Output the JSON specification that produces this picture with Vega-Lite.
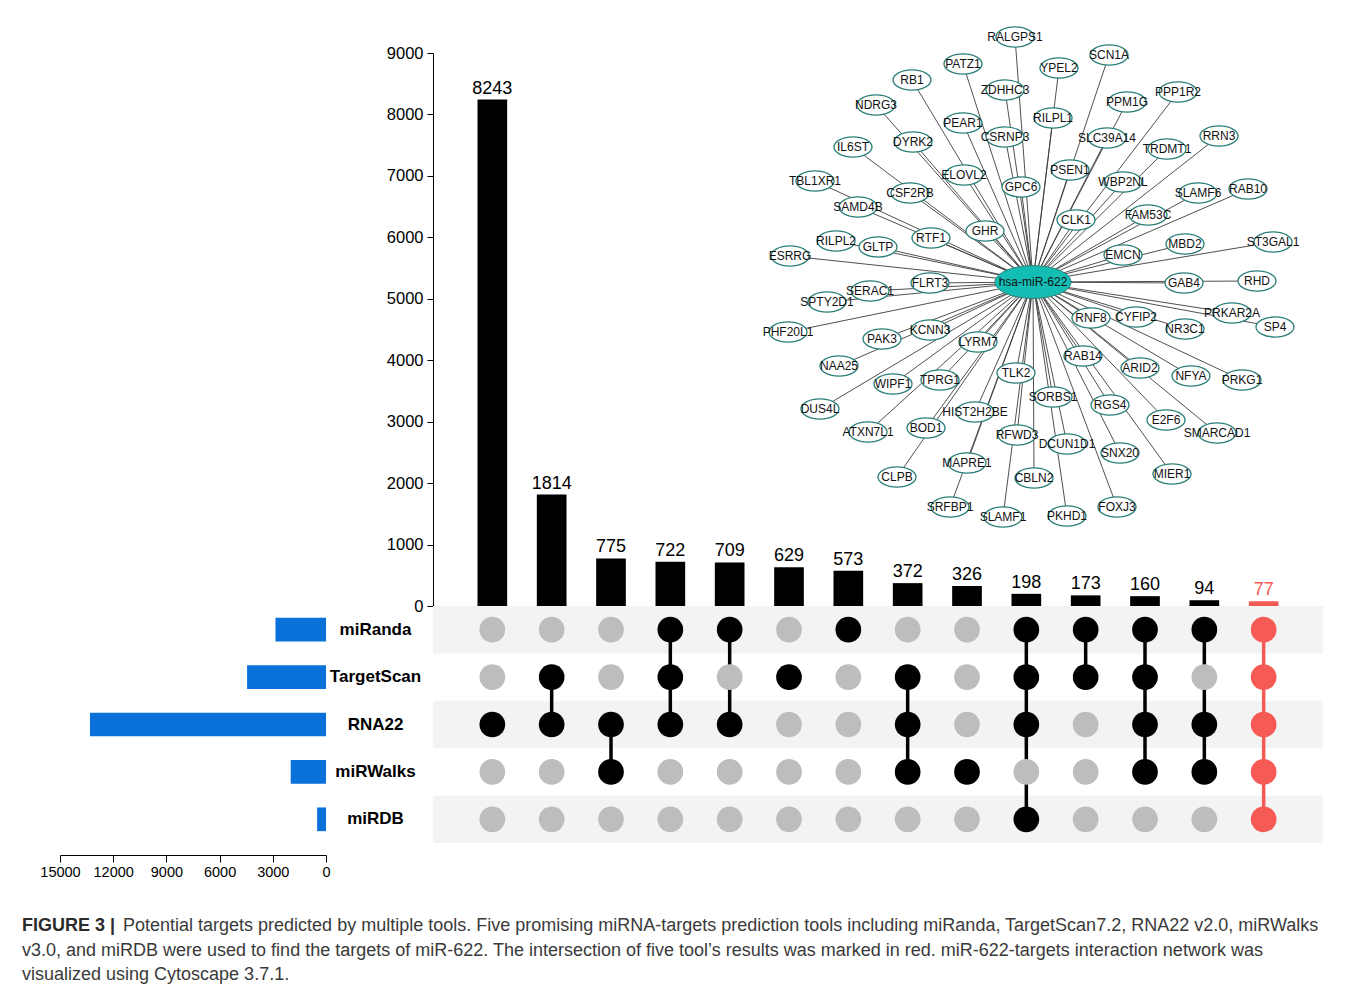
{
  "$schema": "https://vega.github.io/schema/vega-lite/v6.json",
  "padding": {"left": 22, "top": 24, "right": 5, "bottom": 3},
  "background": "white",
  "config": {
    "view": {"stroke": null},
    "font": "Liberation Sans",
    "axis": {"labelFont": "Liberation Sans", "labelColor": "#000000", "domainColor": "#000000", "tickColor": "#000000", "grid": false, "title": null}
  },
  "datasets": {
    "inter": [
      {"i": 1, "count": 8243, "degree": 1, "miRanda": 0, "TargetScan": 0, "RNA22": 1, "miRWalks": 0, "miRDB": 0},
      {"i": 2, "count": 1814, "degree": 2, "miRanda": 0, "TargetScan": 1, "RNA22": 1, "miRWalks": 0, "miRDB": 0},
      {"i": 3, "count": 775, "degree": 2, "miRanda": 0, "TargetScan": 0, "RNA22": 1, "miRWalks": 1, "miRDB": 0},
      {"i": 4, "count": 722, "degree": 3, "miRanda": 1, "TargetScan": 1, "RNA22": 1, "miRWalks": 0, "miRDB": 0},
      {"i": 5, "count": 709, "degree": 2, "miRanda": 1, "TargetScan": 0, "RNA22": 1, "miRWalks": 0, "miRDB": 0},
      {"i": 6, "count": 629, "degree": 1, "miRanda": 0, "TargetScan": 1, "RNA22": 0, "miRWalks": 0, "miRDB": 0},
      {"i": 7, "count": 573, "degree": 1, "miRanda": 1, "TargetScan": 0, "RNA22": 0, "miRWalks": 0, "miRDB": 0},
      {"i": 8, "count": 372, "degree": 3, "miRanda": 0, "TargetScan": 1, "RNA22": 1, "miRWalks": 1, "miRDB": 0},
      {"i": 9, "count": 326, "degree": 1, "miRanda": 0, "TargetScan": 0, "RNA22": 0, "miRWalks": 1, "miRDB": 0},
      {"i": 10, "count": 198, "degree": 4, "miRanda": 1, "TargetScan": 1, "RNA22": 1, "miRWalks": 0, "miRDB": 1},
      {"i": 11, "count": 173, "degree": 2, "miRanda": 1, "TargetScan": 1, "RNA22": 0, "miRWalks": 0, "miRDB": 0},
      {"i": 12, "count": 160, "degree": 4, "miRanda": 1, "TargetScan": 1, "RNA22": 1, "miRWalks": 1, "miRDB": 0},
      {"i": 13, "count": 94, "degree": 3, "miRanda": 1, "TargetScan": 0, "RNA22": 1, "miRWalks": 1, "miRDB": 0},
      {"i": 14, "count": 77, "degree": 5, "miRanda": 1, "TargetScan": 1, "RNA22": 1, "miRWalks": 1, "miRDB": 1}
    ],
    "sets": [
      {"set": "miRanda", "size": 2850},
      {"set": "TargetScan", "size": 4450},
      {"set": "RNA22", "size": 13310},
      {"set": "miRWalks", "size": 1990},
      {"set": "miRDB", "size": 500}
    ],
    "nodes": [
      {"name": "RALGPS1", "x": -18, "y": 245},
      {"name": "SCN1A", "x": 76, "y": 227},
      {"name": "PATZ1", "x": -70, "y": 218},
      {"name": "YPEL2", "x": 26, "y": 214},
      {"name": "RB1", "x": -121, "y": 202},
      {"name": "ZDHHC3", "x": -28, "y": 192},
      {"name": "PPP1R2", "x": 145, "y": 190},
      {"name": "PPM1G", "x": 94, "y": 180},
      {"name": "NDRG3", "x": -157, "y": 177},
      {"name": "RILPL1", "x": 20, "y": 164},
      {"name": "PEAR1", "x": -70, "y": 159},
      {"name": "SLC39A14", "x": 74, "y": 144},
      {"name": "RRN3", "x": 186, "y": 146},
      {"name": "CSRNP3", "x": -28, "y": 145},
      {"name": "IL6ST", "x": -180, "y": 135},
      {"name": "DYRK2", "x": -120, "y": 140},
      {"name": "TRDMT1", "x": 134, "y": 133},
      {"name": "PSEN1", "x": 37, "y": 112},
      {"name": "ELOVL2", "x": -69, "y": 107},
      {"name": "TBL1XR1", "x": -218, "y": 101},
      {"name": "WBP2NL", "x": 90, "y": 100},
      {"name": "GPC6", "x": -12, "y": 95},
      {"name": "CSF2RB", "x": -123, "y": 89},
      {"name": "SLAMF6", "x": 165, "y": 89},
      {"name": "RAB10", "x": 215, "y": 93},
      {"name": "SAMD4B", "x": -175, "y": 75},
      {"name": "FAM53C", "x": 115, "y": 67},
      {"name": "CLK1", "x": 43, "y": 62},
      {"name": "GHR", "x": -48, "y": 51},
      {"name": "RTF1", "x": -102, "y": 44},
      {"name": "RILPL2", "x": -197, "y": 41},
      {"name": "GLTP", "x": -155, "y": 35},
      {"name": "MBD2", "x": 152, "y": 38},
      {"name": "ST3GAL1", "x": 240, "y": 40},
      {"name": "EMCN", "x": 90, "y": 27},
      {"name": "ESRRG", "x": -243, "y": 26},
      {"name": "GAB4", "x": 151, "y": -1},
      {"name": "RHD", "x": 224, "y": 1},
      {"name": "FLRT3", "x": -103, "y": -1},
      {"name": "SERAC1", "x": -163, "y": -9},
      {"name": "SPTY2D1", "x": -206, "y": -20},
      {"name": "PRKAR2A", "x": 199, "y": -31},
      {"name": "RNF8", "x": 58, "y": -36},
      {"name": "CYFIP2", "x": 103, "y": -35},
      {"name": "SP4", "x": 242, "y": -45},
      {"name": "NR3C1", "x": 152, "y": -47},
      {"name": "PHF20L1", "x": -245, "y": -50},
      {"name": "KCNN3", "x": -103, "y": -48},
      {"name": "PAK3", "x": -151, "y": -57},
      {"name": "LYRM7", "x": -55, "y": -60},
      {"name": "RAB14", "x": 50, "y": -74},
      {"name": "NAA25", "x": -194, "y": -84},
      {"name": "ARID2", "x": 107, "y": -86},
      {"name": "TLK2", "x": -17, "y": -91},
      {"name": "NFYA", "x": 158, "y": -94},
      {"name": "PRKG1", "x": 209, "y": -98},
      {"name": "WIPF1", "x": -140, "y": -102},
      {"name": "TPRG1", "x": -93, "y": -98},
      {"name": "SORBS1", "x": 20, "y": -115},
      {"name": "RGS4", "x": 77, "y": -123},
      {"name": "DUS4L", "x": -213, "y": -127},
      {"name": "HIST2H2BE", "x": -58, "y": -130},
      {"name": "E2F6", "x": 133, "y": -138},
      {"name": "SMARCAD1", "x": 184, "y": -151},
      {"name": "ATXN7L1", "x": -165, "y": -150},
      {"name": "BOD1", "x": -107, "y": -146},
      {"name": "RFWD3", "x": -16, "y": -153},
      {"name": "DCUN1D1", "x": 34, "y": -162},
      {"name": "SNX20", "x": 87, "y": -171},
      {"name": "MAPRE1", "x": -66, "y": -181},
      {"name": "MIER1", "x": 139, "y": -192},
      {"name": "CLPB", "x": -136, "y": -195},
      {"name": "CBLN2", "x": 1, "y": -196},
      {"name": "SRFBP1", "x": -83, "y": -225},
      {"name": "SLAMF1", "x": -30, "y": -235},
      {"name": "PKHD1", "x": 34, "y": -234},
      {"name": "FOXJ3", "x": 84, "y": -225}
    ]
  },
  "concat": [
    {"width": 266, "height": 553, "data": {"values": []}, "mark": "point", "encoding": {}},
    {
      "width": 890,
      "height": 553,
      "resolve": {"scale": {"x": "independent", "y": "independent"}},
      "layer": [
        {
          "data": {"name": "inter"},
          "encoding": {
            "x": {"field": "i", "type": "ordinal", "axis": null, "scale": {"type": "band", "paddingInner": 0.5, "paddingOuter": 0.75}}
          },
          "layer": [
            {
              "mark": {"type": "bar"},
              "encoding": {
                "y": {"field": "count", "type": "quantitative", "scale": {"domain": [0, 9000], "nice": false},
                  "axis": {"values": [0, 1000, 2000, 3000, 4000, 5000, 6000, 7000, 8000, 9000], "format": "d", "tickSize": 6, "labelPadding": 4, "labelFontSize": 16.5, "domainWidth": 1, "tickWidth": 1}},
                "color": {"condition": {"test": "datum.degree == 5", "value": "#f65a54"}, "value": "#000000"}
              }
            },
            {
              "mark": {"type": "text", "baseline": "alphabetic", "dy": -6, "fontSize": 18, "font": "Liberation Sans"},
              "encoding": {
                "y": {"field": "count", "type": "quantitative"},
                "text": {"field": "count", "type": "quantitative", "format": "d"},
                "color": {"condition": {"test": "datum.degree == 5", "value": "#f65a54"}, "value": "#000000"}
              }
            }
          ]
        },
        {
          "data": {"name": "nodes"},
          "layer": [
            {
              "mark": {"type": "rule", "color": "#3c3c3c", "strokeWidth": 0.9},
              "encoding": {
                "x": {"field": "x", "type": "quantitative", "axis": null, "scale": {"domain": [-600, 290], "nice": false, "zero": false}},
                "y": {"field": "y", "type": "quantitative", "axis": null, "scale": {"domain": [-324, 229], "nice": false, "zero": false}},
                "x2": {"datum": 0},
                "y2": {"datum": 0}
              }
            },
            {
              "mark": {"type": "point", "shape": "M-1,0A1,0.53,0,1,0,1,0A1,0.53,0,1,0,-1,0Z", "size": 1444, "filled": true, "fill": "#ffffff", "stroke": "#2a7f77", "strokeWidth": 1.3, "opacity": 1},
              "encoding": {
                "x": {"field": "x", "type": "quantitative", "axis": null},
                "y": {"field": "y", "type": "quantitative", "axis": null}
              }
            },
            {
              "mark": {"type": "text", "fontSize": 12, "color": "#111111", "font": "Liberation Sans"},
              "encoding": {
                "x": {"field": "x", "type": "quantitative", "axis": null},
                "y": {"field": "y", "type": "quantitative", "axis": null},
                "text": {"field": "name"}
              }
            },
            {
              "data": {"values": [{"name": "hsa-miR-622", "x": 0, "y": 0}]},
              "mark": {"type": "point", "shape": "M-1,0A1,0.43,0,1,0,1,0A1,0.43,0,1,0,-1,0Z", "size": 5776, "filled": true, "fill": "#14bdb4", "stroke": "#2a7f77", "strokeWidth": 1, "opacity": 1},
              "encoding": {
                "x": {"field": "x", "type": "quantitative", "axis": null},
                "y": {"field": "y", "type": "quantitative", "axis": null}
              }
            },
            {
              "data": {"values": [{"name": "hsa-miR-622", "x": 0, "y": 0}]},
              "mark": {"type": "text", "fontSize": 12, "color": "#111111", "font": "Liberation Sans"},
              "encoding": {
                "x": {"field": "x", "type": "quantitative", "axis": null},
                "y": {"field": "y", "type": "quantitative", "axis": null},
                "text": {"field": "name"}
              }
            }
          ]
        }
      ]
    },
    {
      "width": 266,
      "height": 237,
      "data": {"name": "sets"},
      "mark": {"type": "bar", "color": "#0a71da"},
      "encoding": {
        "y": {"field": "set", "type": "nominal", "axis": null, "scale": {"domain": ["miRanda", "TargetScan", "RNA22", "miRWalks", "miRDB"], "paddingInner": 0.5, "paddingOuter": 0.25}},
        "x": {"field": "size", "type": "quantitative", "scale": {"domain": [0, 15000], "reverse": true, "nice": false},
          "axis": {"orient": "bottom", "values": [0, 3000, 6000, 9000, 12000, 15000], "format": "d", "offset": 12, "labelFlush": false, "tickSize": 7, "labelPadding": 3, "labelFontSize": 14.5, "domainWidth": 1, "tickWidth": 1}}
      }
    },
    {
      "width": 890,
      "height": 237,
      "data": {"name": "inter"},
      "transform": [
        {"fold": ["miRanda", "TargetScan", "RNA22", "miRWalks", "miRDB"], "as": ["set", "member"]},
        {"calculate": "indexof(['miRanda','TargetScan','RNA22','miRWalks','miRDB'], datum.set)", "as": "row"}
      ],
      "layer": [
        {
          "transform": [{"filter": "datum.i == 1 && datum.row % 2 == 0"}],
          "mark": {"type": "rect", "color": "#f3f3f3"},
          "encoding": {
            "x": {"value": 0},
            "x2": {"value": "width"},
            "y": {"field": "set", "type": "nominal", "scale": {"type": "band", "domain": ["miRanda", "TargetScan", "RNA22", "miRWalks", "miRDB"], "paddingInner": 0, "paddingOuter": 0},
              "axis": {"orient": "left", "ticks": false, "tickSize": 0, "domain": false, "labelAlign": "center", "labelPadding": 58, "labelFontSize": 17, "labelFontWeight": "bold"}}
          }
        },
        {
          "transform": [
            {"filter": "datum.member == 1"},
            {"aggregate": [{"op": "argmin", "field": "row", "as": "top"}, {"op": "argmax", "field": "row", "as": "bot"}], "groupby": ["i", "degree"]},
            {"calculate": "datum.top.set", "as": "s1"},
            {"calculate": "datum.bot.set", "as": "s2"},
            {"filter": "datum.s1 != datum.s2"}
          ],
          "mark": {"type": "rule", "strokeWidth": 3.5},
          "encoding": {
            "x": {"field": "i", "type": "ordinal", "axis": null, "scale": {"type": "band", "paddingInner": 0.5, "paddingOuter": 0.75}},
            "y": {"field": "s1", "type": "nominal"},
            "y2": {"field": "s2"},
            "color": {"condition": {"test": "datum.degree == 5", "value": "#f65a54"}, "value": "#000000"}
          }
        },
        {
          "mark": {"type": "circle", "size": 660, "opacity": 1},
          "encoding": {
            "x": {"field": "i", "type": "ordinal", "axis": null},
            "y": {"field": "set", "type": "nominal"},
            "color": {"condition": [{"test": "datum.member == 0", "value": "#bdbdbd"}, {"test": "datum.degree == 5", "value": "#f65a54"}], "value": "#000000"}
          }
        }
      ]
    },
    {
      "width": 266,
      "height": 140,
      "data": {"values": [
        {"line": 1, "part": "head", "text": "FIGURE 3 |"},
        {"line": 1, "part": "first", "text": "Potential targets predicted by multiple tools. Five promising miRNA-targets prediction tools including miRanda, TargetScan7.2, RNA22 v2.0, miRWalks"},
        {"line": 2, "part": "rest", "text": "v3.0, and miRDB were used to find the targets of miR-622. The intersection of five tool’s results was marked in red. miR-622-targets interaction network was"},
        {"line": 3, "part": "rest", "text": "visualized using Cytoscape 3.7.1."}
      ]},
      "encoding": {
        "y": {"field": "line", "type": "quantitative", "axis": null, "scale": {"domain": [-2.388, 3.326], "reverse": true, "nice": false, "zero": false}},
        "x": {"value": 0},
        "text": {"field": "text"}
      },
      "layer": [
        {"transform": [{"filter": "datum.part == 'head'"}], "mark": {"type": "text", "align": "left", "baseline": "middle", "dx": -38, "fontSize": 18, "fontWeight": "bold", "color": "#2b2b2b"}},
        {"transform": [{"filter": "datum.part == 'first'"}], "mark": {"type": "text", "align": "left", "baseline": "middle", "dx": 63, "fontSize": 18, "color": "#3a3a3a"}},
        {"transform": [{"filter": "datum.part == 'rest'"}], "mark": {"type": "text", "align": "left", "baseline": "middle", "dx": -38, "fontSize": 18, "color": "#3a3a3a"}}
      ]
    }
  ],
  "columns": 2,
  "spacing": {"row": 0, "column": 107},
  "bounds": "flush"
}
